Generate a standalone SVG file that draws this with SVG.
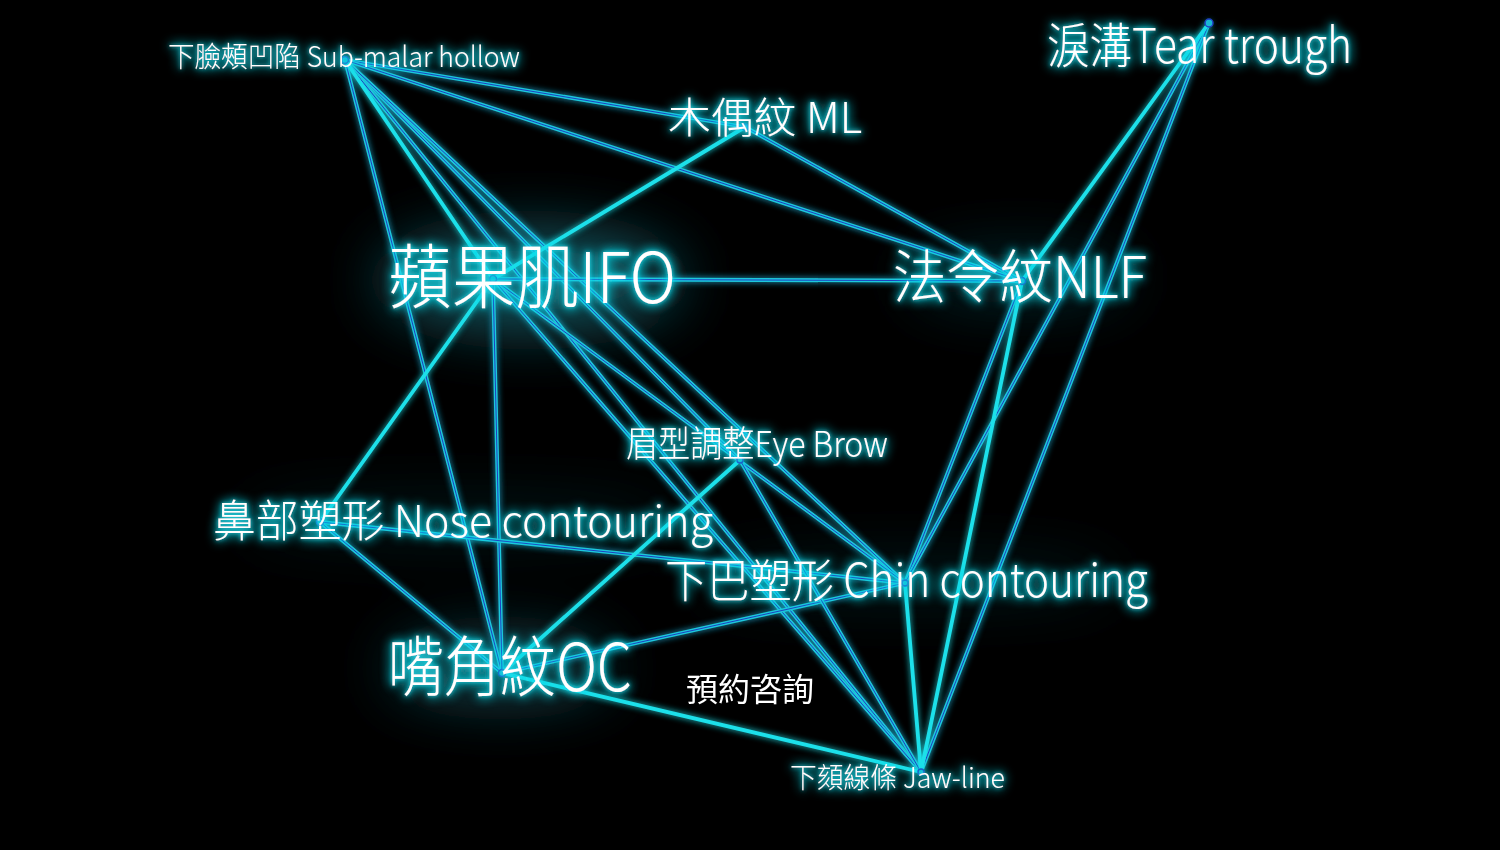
<svg xmlns="http://www.w3.org/2000/svg" width="1500" height="850" viewBox="0 0 1500 850">
<defs>
<filter id="soft" filterUnits="userSpaceOnUse" x="0" y="0" width="1500" height="850">
<feGaussianBlur stdDeviation="30"/>
</filter>
<filter id="tglow" x="-20%" y="-50%" width="140%" height="200%">
<feFlood flood-color="#22d8e8" result="c"/>
<feComposite in="c" in2="SourceAlpha" operator="in" result="ca"/>
<feGaussianBlur in="ca" stdDeviation="6" result="b1"/>
<feGaussianBlur in="ca" stdDeviation="2" result="b2"/>
<feMerge><feMergeNode in="b1"/><feMergeNode in="b1"/><feMergeNode in="b2"/><feMergeNode in="SourceGraphic"/></feMerge>
</filter>
<filter id="lglow" x="-10%" y="-10%" width="120%" height="120%">
<feGaussianBlur in="SourceGraphic" stdDeviation="3" result="b"/>
<feMerge><feMergeNode in="b"/><feMergeNode in="SourceGraphic"/></feMerge>
</filter>
</defs>
<style>
.lbl{font-family:"Noto Sans CJK TC","Noto Sans",sans-serif;font-weight:300;fill:#ffffff;filter:url(#tglow)}
.cta{font-family:"Noto Sans CJK TC","Noto Sans",sans-serif;font-weight:400;fill:#ffffff;font-size:32px}
.eo{stroke:#1cc8dc;stroke-width:3.8;fill:none;stroke-linecap:round}
.ei{stroke:#1f3fc0;stroke-width:1;fill:none;stroke-linecap:round}
.eb{stroke:#1ee0ea;stroke-width:3.8;fill:none;stroke-linecap:round}
.dot{fill:#1ab8d4;stroke:#1f3fc0;stroke-width:1.5}
.halo{fill:#1d6a78}
</style>
<rect width="1500" height="850" fill="#000"/>
<g id="halos" filter="url(#soft)">
<ellipse class="halo" cx="530" cy="280" rx="150" ry="50" opacity="0.8"/>
<ellipse class="halo" cx="500" cy="668" rx="110" ry="32" opacity="0.65"/>
<ellipse class="halo" cx="1020" cy="278" rx="110" ry="28" opacity="0.35"/>
<ellipse class="halo" cx="910" cy="580" rx="210" ry="20" opacity="0.25"/>
<ellipse class="halo" cx="460" cy="520" rx="220" ry="18" opacity="0.25"/>
</g>

<g id="connectors" filter="url(#lglow)">
<g class="thin">
<path class="eo" d="M345 60L745 127"/><path class="ei" d="M345 60L745 127"/>
<path class="eo" d="M345 60L1022 281"/><path class="ei" d="M345 60L1022 281"/>
<path class="eo" d="M345 60L502 673"/><path class="ei" d="M345 60L502 673"/>
<path class="eo" d="M345 60L740 460"/><path class="ei" d="M345 60L740 460"/>
<path class="eo" d="M345 60L905 583"/><path class="ei" d="M345 60L905 583"/>
<path class="eo" d="M345 60L921 772"/><path class="ei" d="M345 60L921 772"/>
<path class="eo" d="M745 127L1022 281"/><path class="ei" d="M745 127L1022 281"/>
<path class="eo" d="M493 279L1022 281"/><path class="ei" d="M493 279L1022 281"/>
<path class="eo" d="M493 279L502 673"/><path class="ei" d="M493 279L502 673"/>
<path class="eo" d="M493 279L905 583"/><path class="ei" d="M493 279L905 583"/>
<path class="eo" d="M493 279L921 772"/><path class="ei" d="M493 279L921 772"/>
<path class="eo" d="M320 522L905 583"/><path class="ei" d="M320 522L905 583"/>
<path class="eo" d="M320 522L502 673"/><path class="ei" d="M320 522L502 673"/>
<path class="eo" d="M502 673L905 583"/><path class="ei" d="M502 673L905 583"/>
<path class="eo" d="M740 460L921 772"/><path class="ei" d="M740 460L921 772"/>
<path class="eo" d="M1022 281L905 583"/><path class="ei" d="M1022 281L905 583"/>
<path class="eo" d="M1209 23L905 583"/><path class="ei" d="M1209 23L905 583"/>
<path class="eo" d="M1209 23L921 772"/><path class="ei" d="M1209 23L921 772"/>
</g>
<g class="bright">
<path class="eb" d="M345 60L493 279"/>
<path class="eb" d="M493 279L745 127"/>
<path class="eb" d="M493 279L320 522"/>
<path class="eb" d="M740 460L502 673"/>
<path class="eb" d="M502 673L921 772"/>
<path class="eb" d="M905 583L921 772"/>
<path class="eb" d="M1209 23L1022 281"/>
<path class="eb" d="M1022 281L921 772"/>
</g>
</g>

<g id="node-submalar"><circle class="dot" cx="345" cy="60" r="3.5"/><text class="lbl" x="168" y="67" font-size="28" textLength="352" lengthAdjust="spacingAndGlyphs">下臉頰凹陷 Sub-malar hollow</text></g>
<g id="node-teartrough"><circle class="dot" cx="1209" cy="23" r="4"/><text class="lbl" x="1047" y="63" font-size="48" textLength="305" lengthAdjust="spacingAndGlyphs">淚溝Tear trough</text></g>
<g id="node-ml"><circle class="dot" cx="745" cy="127" r="3"/><text class="lbl" x="668" y="133" font-size="42" textLength="194" lengthAdjust="spacingAndGlyphs">木偶紋 ML</text></g>
<g id="node-ifo"><circle class="dot" cx="493" cy="279" r="3.5"/><text class="lbl" x="388" y="303" font-size="70" textLength="288" lengthAdjust="spacingAndGlyphs">蘋果肌IFO</text></g>
<g id="node-nlf"><circle class="dot" cx="1022" cy="281" r="3.5"/><text class="lbl" x="893" y="298" font-size="58" textLength="254" lengthAdjust="spacingAndGlyphs">法令紋NLF</text></g>
<g id="node-eyebrow"><circle class="dot" cx="740" cy="460" r="3"/><text class="lbl" x="626" y="457" font-size="36" textLength="262" lengthAdjust="spacingAndGlyphs">眉型調整Eye Brow</text></g>
<g id="node-nose"><circle class="dot" cx="320" cy="522" r="3.5"/><text class="lbl" x="213" y="537" font-size="44" textLength="500" lengthAdjust="spacingAndGlyphs">鼻部塑形 Nose contouring</text></g>
<g id="node-chin"><circle class="dot" cx="905" cy="583" r="3"/><text class="lbl" x="665" y="597" font-size="46" textLength="483" lengthAdjust="spacingAndGlyphs">下巴塑形 Chin contouring</text></g>
<g id="node-oc"><circle class="dot" cx="502" cy="673" r="3.5"/><text class="lbl" x="388" y="691" font-size="66" textLength="244" lengthAdjust="spacingAndGlyphs">嘴角紋OC</text></g>
<g id="node-jaw"><circle class="dot" cx="921" cy="772" r="3"/><text class="lbl" x="790" y="788" font-size="28" textLength="215" lengthAdjust="spacingAndGlyphs">下頦線條 Jaw-line</text></g>
<g id="cta"><text class="cta" x="686" y="701" textLength="128" lengthAdjust="spacingAndGlyphs">預約咨詢</text></g>
</svg>
